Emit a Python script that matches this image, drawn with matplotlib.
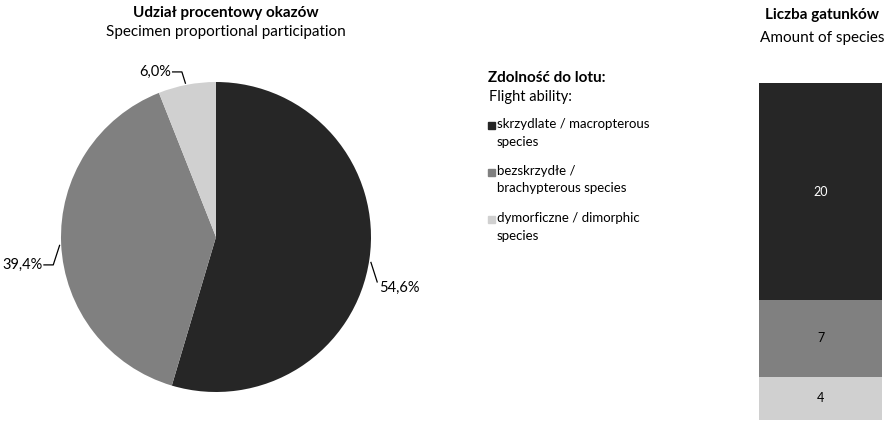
import numpy as np
import matplotlib.pyplot as plt
from matplotlib.patches import Rectangle

plt.rcParams['font.family'] = ['Lato', 'DejaVu Sans']

# data
categories = ['skrzydlate / macropterous\nspecies',
              'bezskrzydłe /\nbrachypterous species',
              'dymorficzne / dimorphic\nspecies']
share_pct = [54.6, 39.4, 6.0]
species_count = [20, 7, 4]
colors = ['#262626', '#808080', '#d0d0d0']
pct_labels = ['54,6%', '39,4%', '6,0%']

W, H = 891, 426
fig = plt.figure(figsize=(W / 100, H / 100), dpi=100)

def px_axes(x0, y0, x1, y1):
    # pixel box (top-left origin) -> axes
    return fig.add_axes([x0 / W, 1 - y1 / H, (x1 - x0) / W, (y1 - y0) / H])

# --- pie ---
ax = px_axes(61, 82, 371, 392)
wedges, _ = ax.pie(share_pct, colors=colors, startangle=90, counterclock=False,
                   radius=1, wedgeprops=dict(linewidth=0))
ax.set_xlim(-1, 1)
ax.set_ylim(-1, 1)
ax.set_aspect('equal')
ax.axis('off')

# label positions (text anchor) and leader shapes, data units
lab_pos = [(1.05, -0.33, 'left'), (-1.12, -0.18, 'right'), (-0.29, 1.065, 'right')]
cum = np.cumsum([0] + share_pct)
for i, (tx, ty, ha) in enumerate(lab_pos):
    mid = np.deg2rad(90 - (cum[i] + share_pct[i] / 2) * 3.6)
    ex, ey = np.cos(mid), np.sin(mid)
    if ha == 'left':
        pts = [(ex + 0.01, ey - 0.02), (tx - 0.01, ty + 0.04)]
    else:
        pts = [(ex - 0.01 if ex < 0 else ex, ey + 0.01 if ey > 0 else ey - 0.01),
               (tx + 0.07, ty), (tx + 0.01, ty)]
    xs, ys = zip(*pts)
    ax.plot(xs, ys, color='black', lw=0.9, clip_on=False)
    ax.text(tx, ty, pct_labels[i], ha=ha, va='center', fontsize=10.5, clip_on=False)

fig.text(226 / W, 1 - 13 / H, 'Udział procentowy okazów', ha='center', va='center',
         fontsize=11, fontweight='bold')
fig.text(226 / W, 1 - 32 / H, 'Specimen proportional participation', ha='center',
         va='center', fontsize=11)

# --- legend ---
fig.text(488 / W, 1 - 78 / H, 'Zdolność do lotu:', ha='left', va='center',
         fontsize=11, fontweight='bold')
fig.text(489 / W, 1 - 97 / H, 'Flight ability:', ha='left', va='center', fontsize=10.5)
for i, lab in enumerate(categories):
    y = 125 + i * 47
    fig.patches.append(Rectangle((488 / W, 1 - (y + 4) / H), 7 / W, 7 / H,
                                 transform=fig.transFigure, color=colors[i]))
    fig.text(497 / W, 1 - (y - 7) / H, lab, ha='left', va='top', fontsize=9.5,
             linespacing=1.55)

# --- stacked bar (first category on top) ---
bx = px_axes(759, 83, 882, 420)
bottom = 0
for i, v in enumerate(species_count):
    bx.bar(0, v, bottom=bottom, width=1, color=colors[i], linewidth=0)
    bx.text(0, bottom + v / 2, str(v), ha='center', va='center', fontsize=9,
            color='white' if i == 0 else 'black')
    bottom += v
bx.set_xlim(-0.5, 0.5)
bx.set_ylim(sum(species_count), 0)
bx.axis('off')

fig.text(822 / W, 1 - 15 / H, 'Liczba gatunków', ha='center', va='center',
         fontsize=11, fontweight='bold')
fig.text(822 / W, 1 - 38 / H, 'Amount of species', ha='center', va='center', fontsize=11)

fig.savefig('out.png', dpi=100)
